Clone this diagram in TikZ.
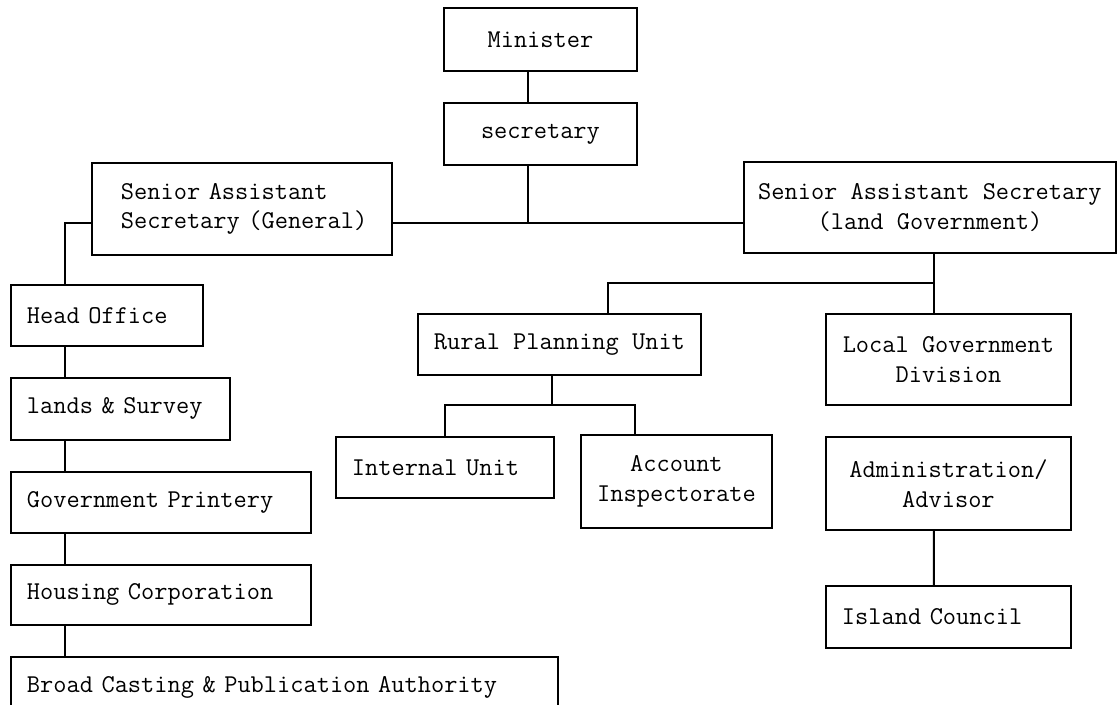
\documentclass[tikz,border=0pt]{standalone}
\usepackage{fontspec}
\usepackage{tikz}
\usetikzlibrary{positioning}

\begin{document}
\begin{tikzpicture}[
				x=0.02cm, y=-0.02cm,
				line width=1.1pt,
				orgbox/.style={rectangle, draw=black, inner sep=0pt, font=\fontsize{14.6}{17}\ttfamily},
				midbox/.style={orgbox, align=center},
				leftbox/.style={orgbox, align=left, inner xsep=0.32cm, text width=#1},
				node distance = 0.6cm,
				]
				\useasboundingbox (0,0) rectangle (1117,705);
				
				%Nodes
				\node[midbox, minimum width=3.86cm, minimum height=1.26cm, anchor=north west](minister) at (443,7) {Minister};
				\node[midbox, minimum width=3.86cm, minimum height=1.24cm](secretary)[below=of minister]{secretary};
				\node[leftbox=4.84cm, inner xsep=0.58cm, minimum height=1.84cm, anchor=north west](sasgen) at (91,162) {Senior Assistant\\Secretary~(General)};
				\node[midbox, minimum width=7.44cm, minimum height=1.82cm, anchor=north west](sasland) at (743,161) {Senior Assistant Secretary\\(land Government)};
				
				\node[leftbox=3.2cm, minimum height=1.22cm, anchor=north west](head) at (10,284) {Head Office};
				\node[leftbox=3.74cm, minimum height=1.24cm](lands)[below=of head.south west, anchor=north west]{lands \& Survey};
				\node[leftbox=5.36cm, minimum height=1.22cm](printery)[below=of lands.south west, anchor=north west]{Government Printery};
				\node[leftbox=5.36cm, minimum height=1.2cm](housing)[below=of printery.south west, anchor=north west]{Housing Corporation};
				\node[leftbox=10.3cm, minimum height=1.22cm](broad)[below=of housing.south west, anchor=north west]{Broad Casting \& Publication Authority};
				
				\node[midbox, minimum width=5.66cm, minimum height=1.22cm, anchor=north west](rural) at (417,313) {Rural Planning Unit};
				\node[leftbox=3.72cm, minimum height=1.22cm, anchor=north west](internal) at (335,436) {Internal Unit};
				\node[midbox, minimum width=3.82cm, minimum height=1.86cm, anchor=north west](account) at (580,434) {Account\\Inspectorate};
				
				\node[midbox, minimum width=4.9cm, minimum height=1.82cm, anchor=north west](localgov) at (825,313) {Local Government\\Division};
				\node[midbox, minimum width=4.9cm, minimum height=1.86cm](admin)[below=of localgov]{Administration/\\Advisor};
				\node[leftbox=4.26cm, minimum height=1.24cm, anchor=north west](island) at (825,585) {Island Council};
				
				%Lines
				\coordinate (jmain) at (528,223);
				\coordinate (jleft) at (65,223);
				\coordinate (jland) at (934,283);
				\coordinate (jrural) at (552,405);
				
				\draw (minister.south -| jmain) -- (secretary.north -| jmain);
				\draw (secretary.south -| jmain) -- (jmain);
				\draw (sasgen.east |- jmain) -- (sasland.west |- jmain);
				
				\draw (sasgen.west |- jleft) -- (jleft) -- (head.north -| jleft);
				\draw (head.south -| jleft) -- (lands.north -| jleft);
				\draw (lands.south -| jleft) -- (printery.north -| jleft);
				\draw (printery.south -| jleft) -- (housing.north -| jleft);
				\draw (housing.south -| jleft) -- (broad.north -| jleft);
				
				\draw (sasland.south -| jland) -- (localgov.north -| jland);
				\draw (jland) -| ([xshift=0.97cm]rural.north);
				\draw (rural.south -| jrural) -- (jrural);
				\draw (internal.north) |- (jrural) -| ([xshift=-0.83cm]account.north);
				\draw ([xshift=-0.29cm]admin.south) -- ([xshift=-0.29cm]island.north);
				
			\end{tikzpicture}
\end{document}
